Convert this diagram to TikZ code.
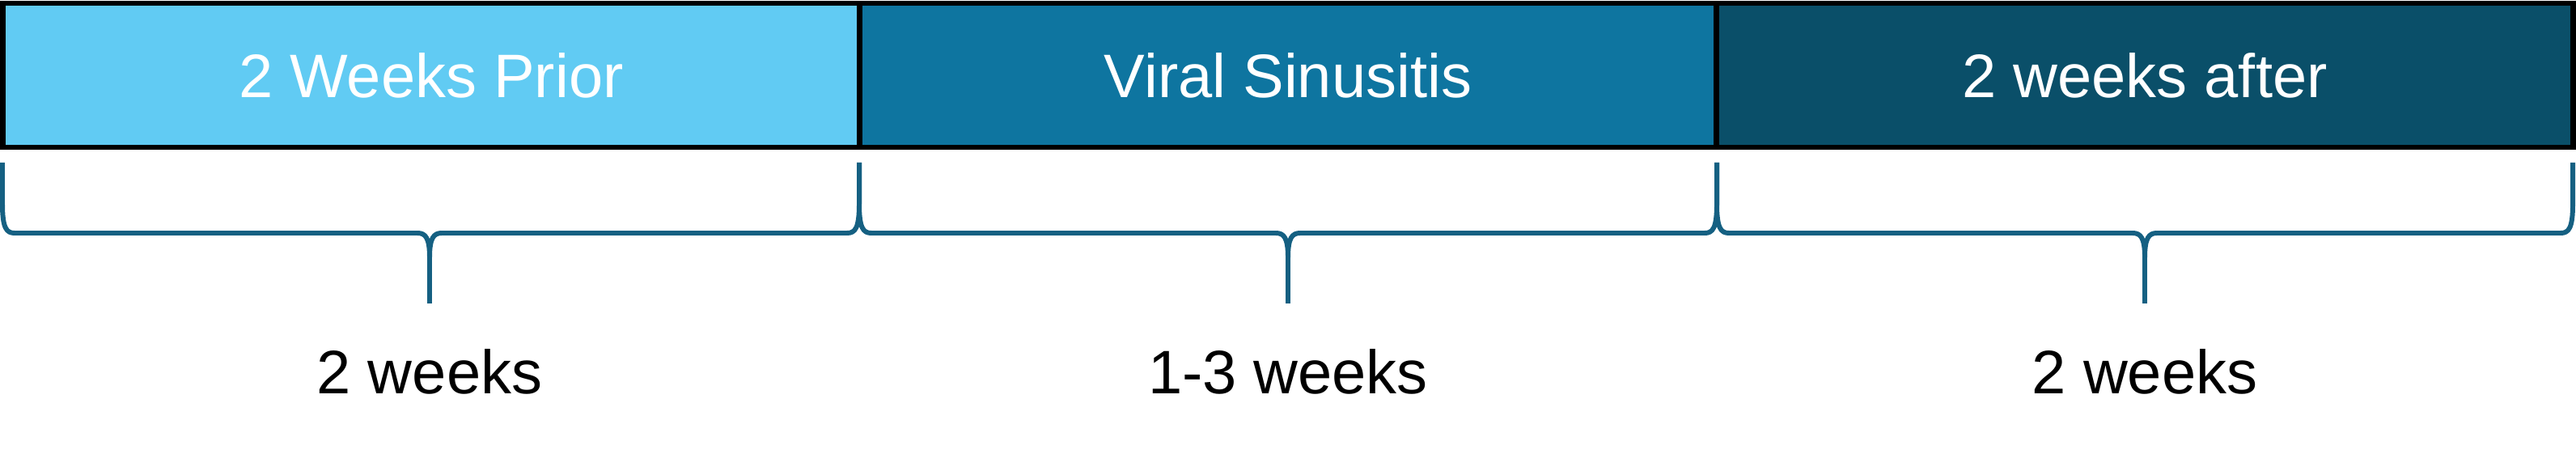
\documentclass[tikz,border=0pt]{standalone}
\usepackage{fontspec}
\setmainfont{Liberation Sans}
\definecolor{priorblue}{HTML}{61CBF3}
\definecolor{viralblue}{HTML}{0E75A0}
\definecolor{afterblue}{HTML}{0A4F69}
\definecolor{bracecol}{HTML}{156082}
\tikzset{
  phase/.style = {draw = black, line width = 1.85pt, minimum width = 10.59cm, minimum height = 1.78cm, inner sep = 0pt, text = white, font = \fontsize{21.6}{26}\selectfont},
  span/.style = {anchor = base, font = \fontsize{21.6}{26}\selectfont},
  bracket/.style = {draw = bracecol, line width = 1.7pt, line join = round}
}
\begin{document}
\begin{tikzpicture}
\useasboundingbox (0,0) rectangle (31.84,5.6);
\node[phase, fill = priorblue] at (5.33,4.67) (prior) {2 Weeks Prior};
\node[phase, fill = viralblue] at (15.92,4.67) (viral) {Viral Sinusitis};
\node[phase, fill = afterblue] at (26.51,4.67) (after) {2 weeks after};
\node[span] at (5.31,0.73) (wprior) {2 weeks};
\node[span] at (15.92,0.73) (wviral) {1-3 weeks};
\node[span] at (26.51,0.73) (wafter) {2 weeks};
% braces under the phases
\draw[bracket] (0.03,3.59) -- (0.03,3.08) .. controls (0.03,2.78) and (0.08,2.72) .. (0.18,2.72)
  -- (5.16,2.72) .. controls (5.26,2.72) and (5.31,2.66) .. (5.31,2.42)
  .. controls (5.31,2.66) and (5.36,2.72) .. (5.46,2.72)
  -- (10.47,2.72) .. controls (10.57,2.72) and (10.62,2.78) .. (10.62,3.08) -- (10.62,3.59);
\draw[bracket] (5.31,2.42) -- (5.31,1.85);
\draw[bracket] (10.62,3.59) -- (10.62,3.08) .. controls (10.62,2.78) and (10.67,2.72) .. (10.77,2.72)
  -- (15.77,2.72) .. controls (15.87,2.72) and (15.92,2.66) .. (15.92,2.42)
  .. controls (15.92,2.66) and (15.97,2.72) .. (16.07,2.72)
  -- (21.07,2.72) .. controls (21.17,2.72) and (21.22,2.78) .. (21.22,3.08) -- (21.22,3.59);
\draw[bracket] (15.92,2.42) -- (15.92,1.85);
\draw[bracket] (21.22,3.59) -- (21.22,3.08) .. controls (21.22,2.78) and (21.27,2.72) .. (21.37,2.72)
  -- (26.36,2.72) .. controls (26.46,2.72) and (26.51,2.66) .. (26.51,2.42)
  .. controls (26.51,2.66) and (26.56,2.72) .. (26.66,2.72)
  -- (31.65,2.72) .. controls (31.75,2.72) and (31.80,2.78) .. (31.80,3.08) -- (31.80,3.59);
\draw[bracket] (26.51,2.42) -- (26.51,1.85);
\end{tikzpicture}
\end{document}
